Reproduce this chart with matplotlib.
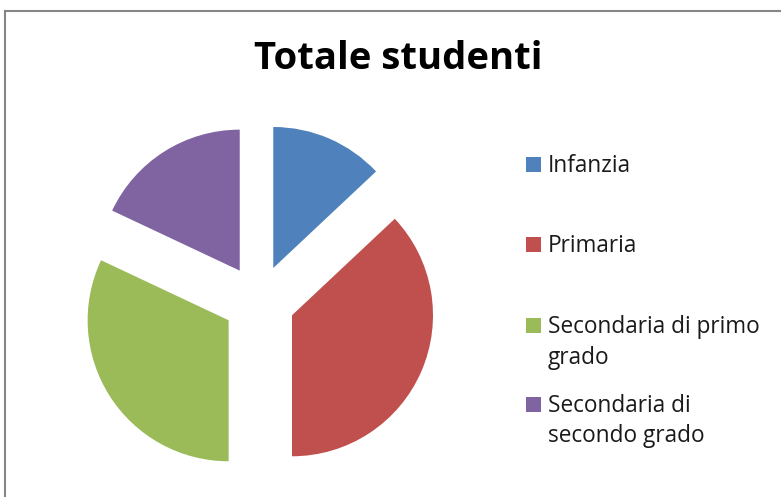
import matplotlib.pyplot as plt
from matplotlib.patches import Rectangle
from matplotlib.lines import Line2D

title = 'Totale studenti'
labels = ['Infanzia', 'Primaria', 'Secondaria di primo\ngrado', 'Secondaria di\nsecondo grado']
values = [13, 37, 32, 18]
colors = ['#4F81BD', '#C0504D', '#9BBB59', '#8064A2']

W, H = 781, 497
fig = plt.figure(figsize=(W / 100, H / 100), dpi=100)
fig.patch.set_facecolor('white')

# pie axes covers the whole figure, 1 unit = 141 px, centre at (259, 196) px from bottom-left
R = 141.0
cx, cy = 259, 196
ax = fig.add_axes([0, 0, 1, 1])
ax.pie(values, colors=colors, startangle=90, counterclock=False,
       explode=[0.255] * len(values), wedgeprops=dict(linewidth=0))
ax.set_xlim(-cx / R, (W - cx) / R)
ax.set_ylim(-cy / R, (H - cy) / R)
ax.set_aspect('auto')
ax.axis('off')

# chart frame (grey border, top and left visible)
fig.add_artist(Line2D([5 / W, 5 / W], [0, 1 - 11 / H], color='#868686', lw=1.5))
fig.add_artist(Line2D([5 / W, 1], [1 - 11 / H, 1 - 11 / H], color='#868686', lw=1.5))

fig.text(398 / W, 1 - 69 / H, title, ha='center', va='baseline',
         fontsize=27.5, fontweight='bold', family='Open Sans', color='black')

# legend drawn by hand: marker level with the first line, 30 px line pitch
baselines = [172, 252, 333, 412]
for lab, col, yb in zip(labels, colors, baselines):
    fig.add_artist(Rectangle((526 / W, 1 - yb / H), 15 / W, 15 / H,
                             facecolor=col, edgecolor='none', transform=fig.transFigure))
    for i, line in enumerate(lab.split('\n')):
        fig.text(548 / W, 1 - (yb + 30.5 * i) / H, line, ha='left', va='baseline',
                 fontsize=16.3, family='Open Sans', color='#1a1a1a')

fig.savefig('out.png', dpi=100)
